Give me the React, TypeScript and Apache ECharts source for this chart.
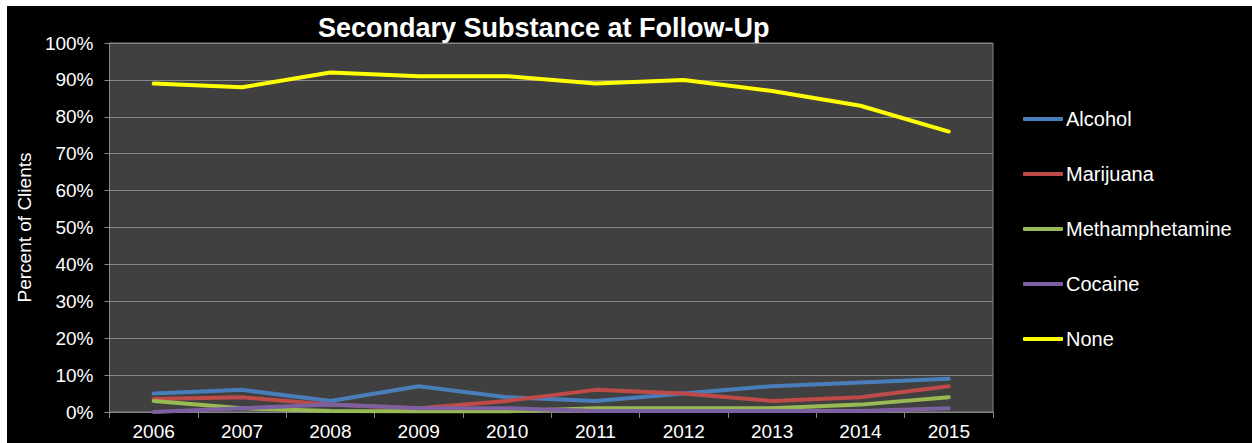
import React, { useEffect, useRef } from "react";
import * as echarts from "echarts";

const years = ["2006", "2007", "2008", "2009", "2010", "2011", "2012", "2013", "2014", "2015"];
const alcohol = [5, 6, 3, 7, 4, 3, 5, 7, 8, 9];
const marijuana = [3.5, 4, 2, 1, 3, 6, 5, 3, 4, 7];
const methamphetamine = [3, 1, 0.3, 0.2, 0.2, 1, 1, 1, 2, 4];
const cocaine = [0, 1, 2, 1, 1, 0.3, 0.3, 0.3, 0.3, 1];
const none = [89, 88, 92, 91, 91, 89, 90, 87, 83, 76];

const seriesNames = ["Alcohol", "Marijuana", "Methamphetamine", "Cocaine", "None"];
const seriesData = [alcohol, marijuana, methamphetamine, cocaine, none];
const seriesColors = ["#4A7EBB", "#BE4B48", "#98B954", "#7D60A0", "#FFFF00"];

export default function App() {
  const ref = useRef<HTMLDivElement>(null);
  useEffect(() => {
    if (!ref.current) return;
    const chart = echarts.init(ref.current, null, { renderer: "svg" });
    const font = "'Liberation Sans', Arial, sans-serif";
    chart.setOption({
      animation: false,
      backgroundColor: "#000000",
      textStyle: { fontFamily: font },
      title: {
        text: "Secondary Substance at Follow-Up",
        left: 306,
        top: 3,
        textStyle: { color: "#ffffff", fontSize: 27, fontWeight: "bold", fontFamily: font },
      },
      grid: {
        left: 94,
        top: 37,
        right: 259,
        bottom: 31,
        show: true,
        backgroundColor: "#404040",
        borderColor: "#868686",
        borderWidth: 1,
      },
      legend: {
        orient: "vertical",
        left: 1011,
        top: 98,
        icon: "roundRect",
        itemWidth: 40,
        itemHeight: 4,
        itemGap: 35,
        textStyle: { color: "#ffffff", fontSize: 20, fontFamily: font, padding: [0, 0, 0, -2] },
        data: seriesNames,
      },
      xAxis: {
        type: "category",
        data: years,
        boundaryGap: true,
        axisLine: { lineStyle: { color: "#868686", width: 1 } },
        axisTick: { show: true, inside: false, length: 6, lineStyle: { color: "#868686" } },
        axisLabel: { color: "#ffffff", fontSize: 19, margin: 10, fontFamily: font },
      },
      yAxis: {
        type: "value",
        min: 0,
        max: 100,
        interval: 10,
        name: "Percent of Clients",
        nameLocation: "middle",
        nameGap: 71,
        nameRotate: 90,
        nameTextStyle: { color: "#ffffff", fontSize: 19, fontFamily: font },
        axisLine: { show: true, lineStyle: { color: "#868686", width: 1 } },
        axisTick: { show: true, inside: false, length: 5, lineStyle: { color: "#868686" } },
        axisLabel: { color: "#ffffff", fontSize: 19, margin: 16, formatter: "{value}%", fontFamily: font },
        splitLine: { show: true, lineStyle: { color: "#868686", width: 1 } },
      },
      series: seriesNames.map((name, i) => ({
        name,
        type: "line",
        data: seriesData[i],
        showSymbol: false,
        symbol: "none",
        color: seriesColors[i],
        itemStyle: { color: seriesColors[i] },
        lineStyle: { color: seriesColors[i], width: 4, cap: "round", join: "round" },
      })),
    });
    return () => chart.dispose();
  }, []);
  return (
    <div style={{ position: "fixed", left: 0, top: 0, width: 1252, height: 443, background: "#ffffff" }}>
      <div ref={ref} style={{ position: "absolute", left: 7, top: 6, width: 1245, height: 437 }} />
    </div>
  );
}
